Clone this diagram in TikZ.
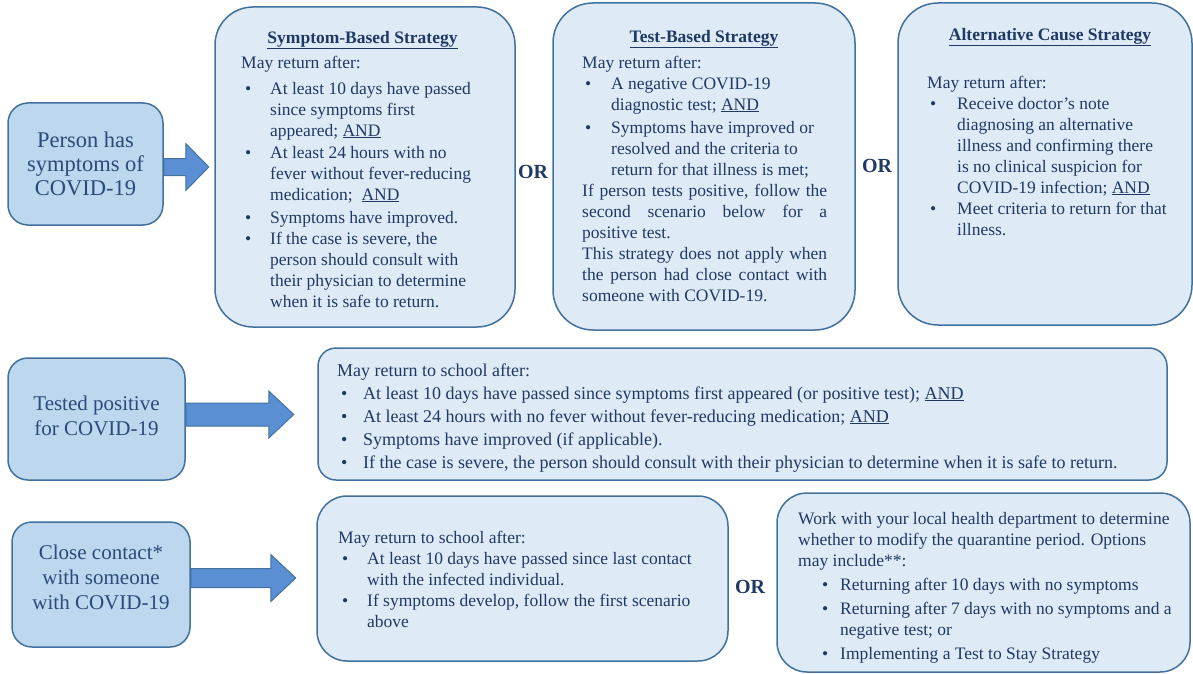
\documentclass[tikz,border=0pt]{standalone}
\usepackage{fontspec}
\setmainfont{Liberation Serif}
\usetikzlibrary{calc}
\definecolor{boxfill}{HTML}{DEEBF7}
\definecolor{srcfill}{HTML}{BDD7EE}
\definecolor{edge}{HTML}{41719C}
\definecolor{ink}{HTML}{1F3864}
\definecolor{srcink}{HTML}{2A4A7A}
\definecolor{arrowfill}{HTML}{5B8FD3}

\newcommand{\fl}{\rule{0pt}{14pt}}
% bullet item line: offset of bullet, indent of text, text
\newcommand{\bi}[3]{\makebox[#2][l]{\hspace*{#1}\textbullet}#3}
% continuation line
\newcommand{\ci}[2]{\hspace*{#1}#2}
\newcommand{\fatarrow}[5]{%
  \draw[fatarrowst] ($(#1)+(0,-#3)$) -- ++({#2-#5},0) -- ++(0,{#3-#4})
    -- ++(#5,#4) -- ++(-#5,#4) -- ++(0,{#3-#4}) -- ++({-(#2-#5)},0) -- cycle;}

\tikzset{
  srcbox/.style={draw=edge, line width=1.5pt, fill=srcfill, rounded corners=20pt, inner sep=0pt},
  infobox/.style={draw=edge, line width=1.5pt, fill=boxfill, inner sep=0pt},
  srctext/.style={text=srcink, font=\fontsize{21}{25}\selectfont, align=center, inner sep=0pt},
  bodytext/.style={text=ink, font=\fontsize{17.5}{21}\selectfont, align=left, anchor=north west, inner sep=0pt},
  widetext/.style={text=ink, font=\fontsize{18}{23}\selectfont, align=left, anchor=north west, inner sep=0pt},
  titletext/.style={text=ink, font=\fontsize{17.5}{21}\selectfont\bfseries, inner sep=0pt},
  ortext/.style={text=ink, font=\fontsize{20}{22}\selectfont\bfseries, inner sep=0pt},
  fatarrowst/.style={draw=edge, line width=1pt, fill=arrowfill, line join=miter},
}

\begin{document}
\begin{tikzpicture}[x=1pt,y=-1pt]
\useasboundingbox (0,0) rectangle (1193,674);

% ---------- source boxes ----------
\node[srcbox, minimum width=155pt, minimum height=122pt] (b1) at (85.5,164) {};
\node[srctext, font=\fontsize{22.5}{24}\selectfont] (t1) at (85.5,164) {Person has\\symptoms of\\COVID-19};
\node[srcbox, minimum width=177pt, minimum height=122pt] (b2) at (96.5,419) {};
\node[srctext] (t2) at (96.5,415.5) {Tested positive\\for COVID-19};
\node[srcbox, minimum width=178pt, minimum height=125pt] (b3) at (101,584.5) {};
\node[srctext] (t3) at (101,577) {Close contact*\\with someone\\with COVID-19};

% ---------- strategy boxes ----------
\node[infobox, rounded corners=38pt, minimum width=300pt, minimum height=320pt] (s1) at (365,167) {};
\node[infobox, rounded corners=40pt, minimum width=302pt, minimum height=327pt] (s2) at (704,166.5) {};
\node[infobox, rounded corners=40pt, minimum width=294pt, minimum height=322pt] (s3) at (1045,164) {};
\node[infobox, rounded corners=18pt, minimum width=849pt, minimum height=132pt] (m1) at (742.5,414) {};
\node[infobox, rounded corners=30pt, minimum width=411pt, minimum height=165pt] (q1) at (522.5,578.5) {};
\node[infobox, rounded corners=30pt, minimum width=413pt, minimum height=179pt] (q2) at (983.5,582.5) {};

% ---------- arrows ----------
\coordinate (a1) at ($(b1.east)+(0,3)$);
\coordinate (a2) at ($(b2.east)+(0,-4.5)$);
\coordinate (a3) at ($(b3.east)+(0,-6.5)$);
\fatarrow{a1}{45}{8.5}{23.5}{23}
\fatarrow{a2}{108}{11.5}{23.5}{25}
\fatarrow{a3}{105}{9.5}{23.5}{25}

% ---------- titles ----------
\node[titletext] (h1) at (362.5,40) {\underline{Symptom-Based Strategy}};
\node[titletext] (h2) at (704,39) {\underline{Test-Based Strategy}};
\node[titletext] (h3) at (1050,37) {\underline{Alternative Cause Strategy}};

% ---------- body texts ----------
\node[bodytext] (x1) at (241,54) {\fl May return after:\\[5pt]
\bi{4pt}{29pt}{At least 10 days have passed}\\
\ci{29pt}{since symptoms first}\\
\ci{29pt}{appeared; \underline{AND}}\\[1pt]
\bi{4pt}{29pt}{At least 24 hours with no}\\
\ci{29pt}{fever without fever-reducing}\\
\ci{29pt}{medication; \ \underline{AND}}\\[2pt]
\bi{4pt}{29pt}{Symptoms have improved.}\\
\bi{4pt}{29pt}{If the case is severe, the}\\
\ci{29pt}{person should consult with}\\
\ci{29pt}{their physician to determine}\\
\ci{29pt}{when it is safe to return.}};

\node[bodytext] (x2) at (582,54) {\fl May return after:\\
\bi{3pt}{29pt}{A negative COVID-19}\\
\ci{29pt}{diagnostic test; \underline{AND}}\\[2pt]
\bi{3pt}{29pt}{Symptoms have improved or}\\
\ci{29pt}{resolved and the criteria to}\\
\ci{29pt}{return for that illness is met;}\\
\makebox[245pt][s]{If person tests positive, follow the}\\
\makebox[245pt][s]{second scenario below for a}\\
positive test.\\
\makebox[245pt][s]{This strategy does not apply when}\\
\makebox[245pt][s]{the person had close contact with}\\
someone with COVID-19.};

\node[bodytext] (x3) at (927,74) {\fl May return after:\\
\bi{3pt}{30pt}{Receive doctor’s note}\\
\ci{30pt}{diagnosing an alternative}\\
\ci{30pt}{illness and confirming there}\\
\ci{30pt}{is no clinical suspicion for}\\
\ci{30pt}{COVID-19 infection; \underline{AND}}\\
\bi{3pt}{30pt}{Meet criteria to return for that}\\
\ci{30pt}{illness.}};

\node[widetext] (x4) at (337,362) {\fl May return to school after:\\
\bi{4pt}{26pt}{At least 10 days have passed since symptoms first appeared (or positive test); \underline{AND}}\\
\bi{4pt}{26pt}{At least 24 hours with no fever without fever-reducing medication; \underline{AND}}\\
\bi{4pt}{26pt}{Symptoms have improved (if applicable).}\\
\bi{4pt}{26pt}{If the case is severe, the person should consult with their physician to determine when it is safe to return.}};

\node[bodytext] (x5) at (338,529) {\fl May return to school after:\\
\bi{4pt}{29pt}{At least 10 days have passed since last contact}\\
\ci{29pt}{with the infected individual.}\\
\bi{4pt}{29pt}{If symptoms develop, follow the first scenario}\\
\ci{29pt}{above}};

\node[bodytext] (x6) at (798,510) {\fl Work with your local health department to determine\\
whether to modify the quarantine period. Options\\
may include**:\\[3pt]
\bi{24pt}{42pt}{Returning after 10 days with no symptoms}\\[3pt]
\bi{24pt}{42pt}{Returning after 7 days with no symptoms and a}\\
\ci{42pt}{negative test; or}\\[3pt]
\bi{24pt}{42pt}{Implementing a Test to Stay Strategy}};

% ---------- OR labels ----------
\node[ortext] (or1) at (533,172) {OR};
\node[ortext] (or2) at (877,166) {OR};
\node[ortext] (or3) at (750,587) {OR};
\end{tikzpicture}
\end{document}
